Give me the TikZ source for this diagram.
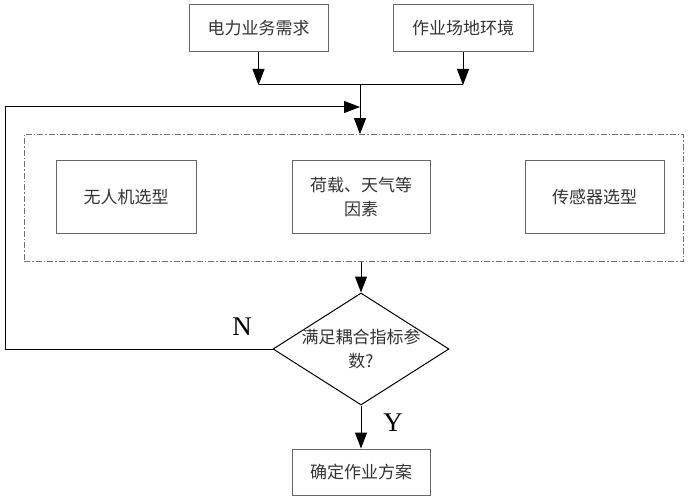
\documentclass[tikz,border=0pt]{standalone}
\usepackage{fontspec}
\setmainfont{Liberation Serif}
\newfontfamily\cjk{Noto Sans CJK SC}
\usetikzlibrary{shapes.geometric,arrows.meta}

\begin{document}
\begin{tikzpicture}[x=1pt, y=-1pt, line width=1pt]
    \tikzstyle{every node} = [font=\cjk\fontsize{17}{24}\selectfont, text=black!80]
    \tikzstyle{box} = [rectangle, draw=black!60, inner sep=0pt, align=center]
    \tikzstyle{arr} = [-{Triangle[width=12pt,length=16pt]}]

    \useasboundingbox (0,0) rectangle (688,500);

    \node (dl) at (258.5, 28.5) [box, minimum width=139pt, minimum height=47pt] {电力业务需求};
    \node (cd) at (463, 28.5) [box, minimum width=140pt, minimum height=47pt] {作业场地环境};

    \coordinate (hz) at (360, 85);
    \coordinate (fb) at (360, 107);
    \coordinate (tl) at (5, 107);
    \coordinate (bl) at (5, 349);

    \node (grp) at (353.5, 198) [rectangle, draw=black!55, line width=0.8pt,
        dash pattern=on 6pt off 2pt on 1.5pt off 2pt,
        minimum width=659pt, minimum height=127pt] {};

    \node (uav) at (126, 197) [box, minimum width=140pt, minimum height=72pt] {无人机选型};
    \node (load) at (361, 197) [box, minimum width=138pt, minimum height=72pt] {荷载、天气等\\因素};
    \node (sen) at (594.5, 197) [box, minimum width=139pt, minimum height=72pt] {传感器选型};

    \node (dia) at (361, 349) [diamond, draw=black, inner sep=0pt,
        minimum width=176pt, minimum height=112pt,
        label={[align=center]center:满足耦合指标参\\数?}] {};

    \node (plan) at (361, 472) [box, minimum width=138pt, minimum height=46pt] {确定作业方案};

    \node (n) at (242, 327) [font=\rmfamily\fontsize{27}{30}\selectfont, text=black] {N};
    \node (y) at (393, 423) [font=\rmfamily\fontsize{27}{30}\selectfont, text=black] {Y};

    \draw [arr] (dl.south) -- (dl.south |- hz);
    \draw [arr] (cd.south) -- (cd.south |- hz);
    \draw [-] (dl.south |- hz) -- (cd.south |- hz);
    \draw [arr] (hz) -- (hz |- grp.north);
    \draw [arr] (dia.west) -- (bl) -- (tl) -- (fb);
    \draw [arr] (dia.north |- grp.south) -- (dia.north);
    \draw [arr] (dia.south) -- (plan.north);
\end{tikzpicture}
\end{document}
